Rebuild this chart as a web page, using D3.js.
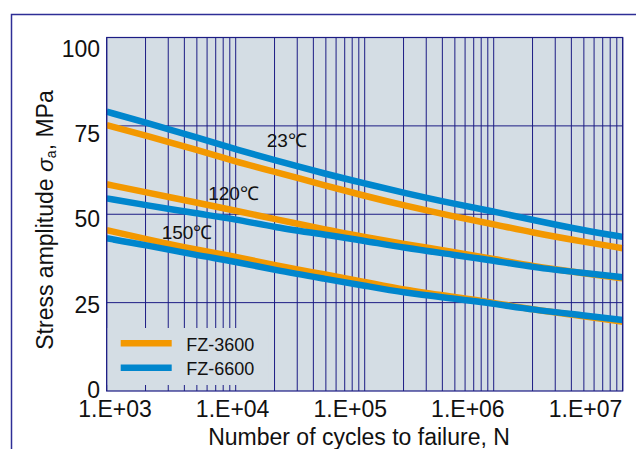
<!DOCTYPE html>
<html>
<head>
<meta charset="utf-8">
<script src="https://cdn.jsdelivr.net/npm/d3@7"></script>
<style>
    body { margin: 0; background: #ffffff; }
    svg { display: block; font-family: "Liberation Sans", Arial, Helvetica, sans-serif; }
</style>
</head>
<body>
<svg id="drawing_region"></svg>
<script>
// cycles to failure (x) and stress amplitude in MPa (y)
const cycles = [1e3, 2e3, 5e3, 1e4, 2e4, 5e4, 1e5, 2e5, 5e5, 1e6, 2e6, 5e6, 1e7];

const fz3600_23 = [75.2, 72.3, 68.2, 64.9, 62.0, 58.1, 55.2, 52.5, 49.3, 47.2, 44.8, 42.2, 40.4];
const fz6600_23 = [79.0, 76.0, 71.7, 68.4, 65.3, 61.4, 58.7, 56.1, 52.9, 50.8, 48.4, 45.4, 43.6];
const fz3600_120 = [58.5, 56.2, 53.3, 51.0, 48.7, 45.6, 43.6, 41.6, 39.3, 37.4, 35.3, 33.3, 31.9];
const fz6600_120 = [54.5, 52.6, 50.2, 48.6, 46.3, 44.2, 42.5, 40.5, 38.5, 36.9, 35.0, 33.4, 32.2];
const fz3600_150 = [45.5, 43.0, 39.9, 38.0, 35.6, 32.9, 30.9, 28.6, 26.6, 25.0, 23.0, 21.2, 19.6];
const fz6600_150 = [43.2, 41.3, 38.4, 36.6, 34.2, 31.7, 29.8, 27.8, 26.1, 24.7, 23.0, 21.4, 20.1];

const seriesNames = ['FZ-3600', 'FZ-6600'];
const seriesColors = ['#f39800', '#0086cd'];

const xTickLabels = ['1.E+03', '1.E+04', '1.E+05', '1.E+06', '1.E+07'];
const yTickLabels = ['0', '25', '50', '75', '100'];
const yGridValues = [25, 50, 75];

const tempLabels = ['23℃', '120℃', '150℃'];

class SNChart {

    constructor(config) {
        this.config = config;
        this.init();
    }

    init() {
        let self = this;
        const m = self.config.margin;

        self.svg = d3.select(self.config.parent)
            .attr('width', self.config.width)
            .attr('height', self.config.height);

        self.inner_width = self.config.width - m.left - m.right;
        self.inner_height = self.config.height - m.top - m.bottom;

        self.xscale = d3.scaleLog()
            .domain([1e3, 1e7])
            .range([0, self.inner_width]);

        self.yscale = d3.scaleLinear()
            .domain([0, 100])
            .range([self.inner_height, 0]);

        // outer frame (cut by the window on the right and bottom)
        self.svg.append('rect')
            .attr('x', 11.5)
            .attr('y', 14.5)
            .attr('width', 700)
            .attr('height', 600)
            .attr('fill', 'none')
            .attr('stroke', '#2e2e96')
            .attr('stroke-width', 1.5);

        self.chart = self.svg.append('g')
            .attr('transform', `translate(${m.left}, ${m.top})`);
    }

    render() {
        let self = this;
        const w = self.inner_width;
        const h = self.inner_height;
        const gridColor = '#1c1c84';

        self.chart.append('rect')
            .attr('width', w)
            .attr('height', h)
            .attr('fill', '#d4dde4');

        // vertical grid, one line per 1..9 x 10^n
        self.chart.append('g')
            .selectAll('line')
            .data(self.xscale.ticks())
            .join('line')
            .attr('x1', d => self.xscale(d))
            .attr('x2', d => self.xscale(d))
            .attr('y1', 0)
            .attr('y2', h)
            .attr('stroke', gridColor)
            .attr('stroke-width', 1);

        self.chart.append('g')
            .selectAll('line')
            .data(yGridValues)
            .join('line')
            .attr('x1', 0)
            .attr('x2', w)
            .attr('y1', d => self.yscale(d))
            .attr('y2', d => self.yscale(d))
            .attr('stroke', gridColor)
            .attr('stroke-width', 1);

        // curves
        const line = d3.line()
            .x((d, i) => self.xscale(cycles[i]))
            .y(d => self.yscale(d))
            .curve(d3.curveBasis);

        const curves = [
            { values: fz3600_23, s: 0 }, { values: fz6600_23, s: 1 },
            { values: fz3600_120, s: 0 }, { values: fz6600_120, s: 1 },
            { values: fz3600_150, s: 0 }, { values: fz6600_150, s: 1 }
        ];

        self.chart.append('g')
            .selectAll('path')
            .data(curves)
            .join('path')
            .attr('d', d => line(d.values))
            .attr('fill', 'none')
            .attr('stroke', d => seriesColors[d.s])
            .attr('stroke-width', 6.5);

        // temperature labels
        const tempPos = [[160, 109.2], [101.5, 162.5], [55, 201.5]];
        self.chart.append('g')
            .selectAll('text')
            .data(tempLabels)
            .join('text')
            .attr('x', (d, i) => tempPos[i][0])
            .attr('y', (d, i) => tempPos[i][1])
            .attr('font-size', '19px')
            .attr('fill', '#111')
            .text(d => d);

        // legend
        const legend = self.chart.append('g');
        legend.append('rect')
            .attr('x', 0.5)
            .attr('y', 290.5)
            .attr('width', 161)
            .attr('height', 57)
            .attr('fill', '#d4dde4');
        seriesNames.forEach((name, i) => {
            legend.append('line')
                .attr('x1', 14)
                .attr('x2', 65)
                .attr('y1', 305.8 + i * 24.4)
                .attr('y2', 305.8 + i * 24.4)
                .attr('stroke', seriesColors[i])
                .attr('stroke-width', 6.5);
            legend.append('text')
                .attr('x', 79.5)
                .attr('y', 313 + i * 24.4)
                .attr('font-size', '18px')
                .attr('fill', '#111')
                .text(name);
        });

        // plot border
        self.chart.append('rect')
            .attr('width', w)
            .attr('height', h)
            .attr('fill', 'none')
            .attr('stroke', gridColor)
            .attr('stroke-width', 1.2);

        // tick labels are spaced evenly in the original, not exactly on the grid
        const xlabel_scale = d3.scalePoint()
            .domain(xTickLabels)
            .range([114.5 - self.config.margin.left, 585 - self.config.margin.left]);
        const xaxis_group = self.chart.append('g')
            .attr('transform', `translate(0, ${h})`)
            .call(d3.axisBottom(xlabel_scale).tickSize(0));
        xaxis_group.select('.domain').remove();
        xaxis_group.selectAll('text')
            .attr('y', 25.7)
            .attr('dy', null)
            .attr('font-size', '23px')
            .attr('font-family', null)
            .attr('fill', '#111');

        const ylabel_scale = d3.scalePoint()
            .domain(yTickLabels)
            .range([389 - self.config.margin.top, 48.3 - self.config.margin.top]);
        const yaxis_group = self.chart.append('g')
            .call(d3.axisLeft(ylabel_scale).tickSize(0));
        yaxis_group.select('.domain').remove();
        yaxis_group.selectAll('text')
            .attr('x', -6.7)
            .attr('dy', '0.36em')
            .attr('font-size', '23px')
            .attr('font-family', null)
            .attr('fill', '#111');

        // axis titles
        self.svg.append('text')
            .attr('x', 359)
            .attr('y', 445)
            .attr('text-anchor', 'middle')
            .attr('font-size', '23px')
            .attr('fill', '#111')
            .text('Number of cycles to failure, N');

        const ytitle = self.svg.append('text')
            .attr('transform', 'translate(53, 220) rotate(-90)')
            .attr('text-anchor', 'middle')
            .attr('font-size', '23px')
            .attr('fill', '#111');
        ytitle.append('tspan').text('Stress amplitude ');
        ytitle.append('tspan').attr('font-style', 'italic').text('σ');
        ytitle.append('tspan').attr('font-size', '14px').attr('dy', 3).text('a');
        ytitle.append('tspan').attr('dy', -3).text(', MPa');
    }
}

const config = {
    parent: '#drawing_region',
    width: 636,
    height: 449,
    margin: { top: 37.5, right: 13.3, bottom: 58, left: 106.7 }
};

const sn_chart = new SNChart(config);
sn_chart.render();
</script>
</body>
</html>
